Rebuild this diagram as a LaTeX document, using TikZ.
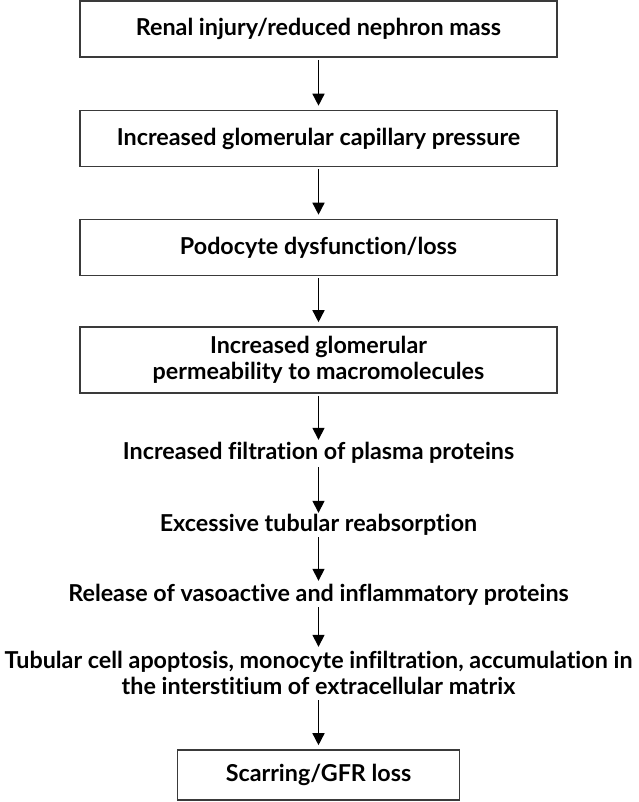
\documentclass[tikz,border=0pt]{standalone}
\usepackage{fontspec}
\setmainfont{Lato}[Ligatures=NoCommon]
\usetikzlibrary{arrows.meta}
\definecolor{boxline}{HTML}{3A3A3A}
\tikzset{
  every node/.style={font=\bfseries\fontsize{23.3}{25.5}\selectfont, inner sep=0pt},
  flowbox/.style={draw=boxline, line width=1.6pt, minimum width=477pt, minimum height=56pt, align=center},
  flowtext/.style={minimum height=24pt, align=center},
  flowarrow/.style={line width=1.5pt, -{Triangle[width=12pt,length=12pt]}},
}
\begin{document}
\begin{tikzpicture}[x=1pt,y=-1pt]
\useasboundingbox[fill=white] (0,0) rectangle (638,802);
\node[flowbox] (b1) at (318.5,29) {Renal injury/reduced nephron mass};
\node[flowbox] (b2) at (318.5,138.5) {Increased glomerular capillary pressure};
\node[flowbox] (b3) at (318.5,247.5) {Podocyte dysfunction/loss};
\node[flowbox, minimum height=66pt] (b4) at (318.5,360) {Increased glomerular\\permeability to macromolecules};
\node[flowtext] (t5) at (318.5,453) {Increased filtration of plasma proteins};
\node[flowtext] (t6) at (318.5,525) {Excessive tubular reabsorption};
\node[flowtext] (t7) at (318.5,595) {Release of vasoactive and inflammatory proteins};
\node[flowtext, minimum height=50pt] (t8) at (318.5,673) {Tubular cell apoptosis, monocyte infiltration, accumulation in\\the interstitium of extracellular matrix};
\node[flowbox, minimum width=282pt, minimum height=50pt] (b9) at (318.5,775) {Scarring/GFR loss};
\draw[flowarrow, shorten <=2pt, shorten >=4pt] (b1) -- (b2);
\draw[flowarrow, shorten <=2pt, shorten >=4pt] (b2) -- (b3);
\draw[flowarrow, shorten <=2pt, shorten >=4pt] (b3) -- (b4);
\draw[flowarrow, shorten <=2pt, shorten >=1pt] (b4) -- (t5);
\draw[flowarrow, shorten <=2pt, shorten >=0pt] (t5) -- (t6);
\draw[flowarrow, shorten <=0pt, shorten >=2pt] (t6) -- (t7);
\draw[flowarrow, shorten <=0pt, shorten >=1pt] (t7) -- (t8);
\draw[flowarrow, shorten <=2pt, shorten >=4pt] (t8) -- (b9);
\end{tikzpicture}
\end{document}
